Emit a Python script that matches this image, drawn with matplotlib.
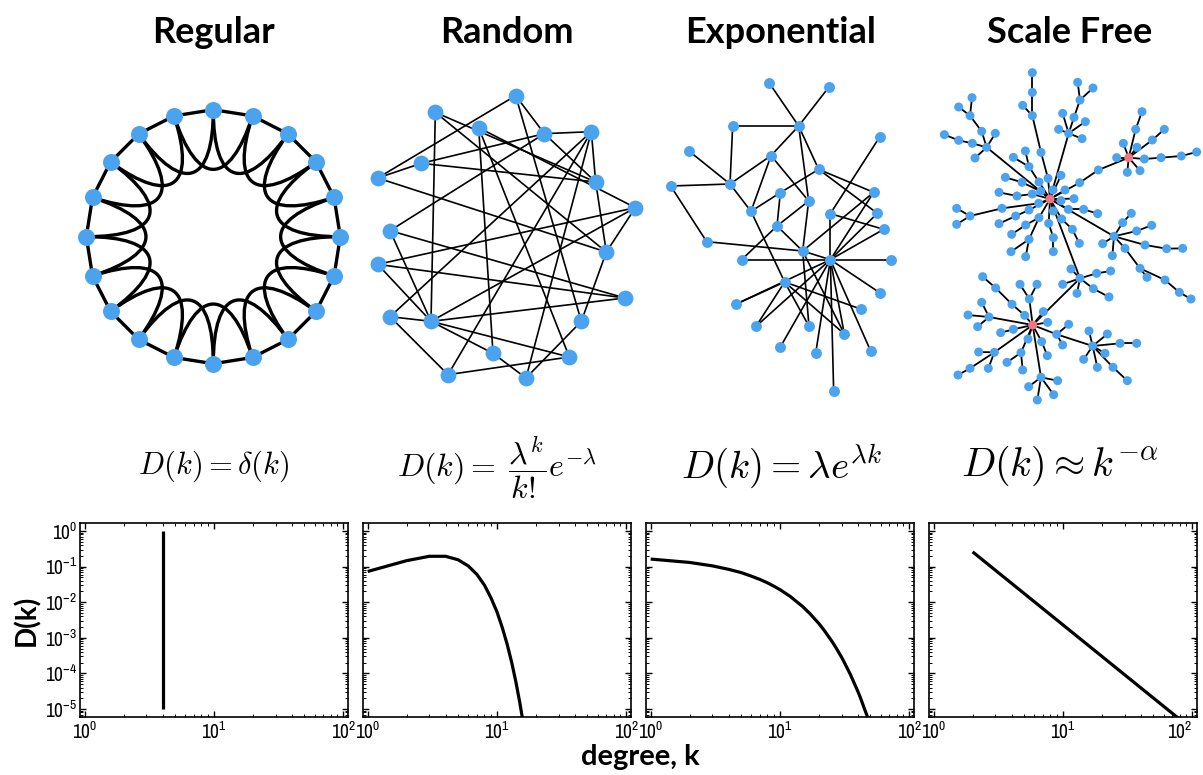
import numpy as np
import matplotlib
matplotlib.use('Agg')
import matplotlib.pyplot as plt
from matplotlib import font_manager
from matplotlib.font_manager import FontProperties
from matplotlib.collections import LineCollection
from matplotlib.path import Path
from matplotlib.patches import PathPatch

# ---------------- data ----------------
titles = ['Regular', 'Random', 'Exponential', 'Scale Free']
formulas = [r'$D(k) = \delta(k)$',
            r'$D(k) =\; \dfrac{\lambda^k}{k!}e^{-\lambda}$',
            r'$D(k) = \lambda e^{\lambda k}$',
            r'$D(k) \approx k^{-\alpha}$']

# degree distributions
reg_k = [4, 4]
reg_D = [1e-5, 1.0]
rand_k = list(range(1, 17))
rand_D = [0.073, 0.147, 0.195, 0.195, 0.156, 0.104, 0.060, 0.030, 0.013,
          0.0053, 0.0019, 6.4e-4, 2.0e-4, 5.7e-5, 1.5e-5, 3.8e-6]
exp_k = [1, 2, 3, 4, 5, 6, 7, 8, 9, 10, 12, 15, 17, 20, 22, 25, 27, 30, 32,
         35, 37, 40, 42, 45, 47, 50]
exp_D = [0.163, 0.131, 0.105, 0.084, 0.068, 0.054, 0.0435, 0.035, 0.028,
         0.0225, 0.0145, 0.0075, 0.0048, 0.0025, 0.0016, 8.3e-4, 5.35e-4,
         2.8e-4, 1.78e-4, 9.3e-5, 5.9e-5, 3.1e-5, 2.0e-5, 1.0e-5, 6.6e-6, 3.4e-6]
sf_k = [2, 10, 80]
sf_D = [0.26, 2.3e-3, 5.1e-6]

# regular ring lattice: 20 nodes, each tied to 1st and 2nd neighbours
n_regular = 20

# random graph layout (node positions as drawn) and edges
rand_pos = [(467, 47), (226, 97), (356, 143), (553, 161), (694, 155), (184, 250),
            (53, 294), (707, 306), (826, 383), (90, 452), (739, 516), (53, 553),
            (795, 654), (90, 710), (213, 724), (664, 724), (399, 820), (628, 831),
            (264, 884), (498, 894)]
rand_edges = [(0, 6), (0, 3), (0, 15), (1, 14), (1, 7), (1, 10), (2, 16), (2, 17),
              (2, 8), (3, 4), (3, 5), (3, 9), (3, 7), (4, 7), (4, 13), (4, 18),
              (4, 19), (5, 6), (5, 7), (6, 10), (7, 10), (8, 11), (8, 14), (8, 10),
              (9, 14), (9, 12), (11, 12), (11, 14), (12, 14), (10, 15), (13, 14),
              (13, 18), (14, 17), (14, 16), (16, 19), (17, 18), (19, 15)]

# exponential graph
exp_pos = [(357, 38), (536, 52), (446, 168), (248, 168), (689, 201), (118, 244),
           (363, 257), (506, 298), (62, 348), (240, 342), (391, 368), (476, 393),
           (671, 367), (303, 424), (541, 431), (682, 430), (381, 468), (701, 478),
           (170, 515), (458, 543), (541, 569), (275, 569), (723, 569), (404, 636),
           (689, 668), (257, 703), (632, 717), (318, 769), (477, 769), (583, 792),
           (391, 831), (497, 850), (662, 843), (551, 964)]
exp_edges = [(0, 2), (1, 2), (2, 3), (2, 6), (2, 7), (2, 11), (3, 9), (5, 9), (8, 9),
             (6, 9), (9, 13), (6, 13), (6, 11), (8, 18), (18, 19), (13, 10), (10, 7),
             (10, 16), (16, 11), (21, 16), (16, 19), (11, 19), (13, 23), (7, 12),
             (7, 15), (4, 14), (14, 20), (14, 17), (12, 19), (12, 20), (15, 20),
             (17, 20), (22, 20), (21, 20), (19, 20), (20, 24), (20, 25), (20, 27),
             (20, 30), (20, 31), (20, 29), (20, 32), (20, 33), (19, 28), (19, 29),
             (23, 25), (23, 27), (23, 28), (23, 26), (23, 29)]

# scale free graph: a tree, given by node positions and parent of each node
sf_pos = [
    (360, 417), (354, 355), (333, 277), (307, 167), (307, 97), (307, 38), (278, 136),
    (393, 346), (369, 390), (405, 390), (432, 416), (393, 422), (370, 453),
    (327, 366), (297, 320), (286, 273), (250, 292),
    (332, 394), (276, 367), (226, 352),
    (307, 402), (261, 408), (207, 397),
    (326, 430), (216, 445), (120, 468), (80, 445), (80, 493),
    (297, 450), (257, 468), (207, 491),
    (327, 473), (287, 495), (245, 523), (297, 538), (243, 575), (287, 590),
    (356, 490), (370, 533), (370, 575),
    (395, 477), (427, 508), (448, 550),
    (415, 448), (461, 448), (503, 461),
    (170, 262), (155, 214), (196, 220), (135, 294), (127, 250), (120, 167),
    (86, 141), (126, 113), (86, 241), (43, 224),
    (416, 220), (398, 160), (386, 208), (432, 172), (466, 185), (456, 236),
    (450, 120), (443, 67), (489, 84),
    (449, 368), (505, 330), (596, 293), (560, 293), (580, 250), (617, 208),
    (636, 155), (621, 262), (667, 240), (703, 208), (643, 297), (693, 293),
    (754, 288), (800, 276), (592, 337), (630, 332),
    (552, 529), (578, 488), (604, 460), (620, 513), (665, 496), (518, 551),
    (547, 587), (645, 555), (710, 566), (758, 565), (585, 565), (630, 625),
    (651, 652), (705, 660), (748, 697), (783, 717),
    (450, 655), (423, 627), (500, 640), (542, 633), (398, 673), (490, 686),
    (537, 711), (441, 700),
    (308, 795), (284, 766), (246, 733), (197, 684), (158, 650), (298, 717),
    (270, 673), (321, 673), (340, 755), (353, 787),
    (177, 771), (155, 727), (114, 765), (143, 800), (250, 808), (212, 818),
    (294, 837), (335, 845), (352, 887),
    (193, 877), (146, 876), (175, 925), (120, 925), (84, 945), (273, 878),
    (231, 907), (278, 930),
    (333, 952), (296, 980), (322, 1020), (371, 1004), (383, 962),
    (380, 823), (416, 793), (398, 855), (488, 858), (477, 813), (532, 822),
    (570, 850), (620, 850), (525, 880), (461, 898), (502, 922), (549, 922),
    (592, 962),
]
sf_parent = [
    -1, 0, 1, 2, 3, 4, 3,
    0, 0, 0, 0, 0, 0,
    0, 13, 14, 14,
    0, 17, 18,
    0, 20, 21,
    0, 23, 24, 25, 25,
    0, 28, 29,
    0, 31, 32, 31, 34, 34,
    0, 37, 38,
    0, 40, 41,
    0, 43, 44,
    0, 46, 46, 46, 46, 47, 51, 51, 50, 54,
    0, 56, 56, 56, 56, 56, 59, 62, 62,
    0, 65, 66, 67, 67, 67, 70, 67, 67, 73, 67, 75, 76, 77, 67, 67,
    0, 81, 82, 81, 84, 81, 81, 81, 88, 89, 81, 91, 92, 92, 94, 95,
    0, 97, 97, 99, 97, 97, 102, 97,
    97, 105, 106, 107, 108, 105, 110, 110, 105, 105,
    105, 115, 115, 115, 105, 119, 105, 105, 122,
    105, 124, 124, 124, 127, 105, 129, 129,
    105, 132, 132, 132, 132,
    105, 137, 137, 137, 140, 140, 140, 143, 140, 140, 140, 140, 148,
]
sf_hubs = [0, 67, 105]

# ---------------- style ----------------
W, H = 1203, 775
blue = '#4BA3F0'
red = '#F27483'
head_font = ['Lato', 'DejaVu Sans']

# a narrow face for the tick labels if one is around
narrow = None
for f in font_manager.fontManager.ttflist:
    if f.style != 'normal' or f.weight not in (400, 'normal', 'regular'):
        continue
    if 'Narrow' in f.name:
        narrow, tick_size = f.fname, 14
        break
    if f.stretch in ('condensed', 'semi-condensed') or 'Condensed' in f.name:
        narrow, tick_size = f.fname, 11.5
if narrow:
    tick_fp = FontProperties(fname=narrow, size=tick_size)
else:
    tick_fp = FontProperties(family='DejaVu Sans', size=10.5)

fig = plt.figure(figsize=(W / 100, H / 100), dpi=100)

# one overlay axes in pixel units for the network drawings
net = fig.add_axes([0, 0, 1, 1])
net.set_xlim(0, W)
net.set_ylim(H, 0)
net.axis('off')


def to_px(pos, x0, y0, s=3.0):
    p = np.array(pos, dtype=float)
    return np.column_stack([x0 + p[:, 0] / s, y0 + p[:, 1] / s])


def draw_graph(xy, edges, size, lw, colors=blue):
    segs = [[xy[i], xy[j]] for i, j in edges]
    net.add_collection(LineCollection(segs, colors='black', linewidths=lw, zorder=2))
    net.scatter(xy[:, 0], xy[:, 1], s=size, c=colors, linewidths=0, zorder=3)


# regular ring
cx, cy, R = 213.3, 236.7, 127.0
ang = np.deg2rad(90 + 360.0 / n_regular * np.arange(n_regular))
reg_xy = np.column_stack([cx + R * np.cos(ang), cy - R * np.sin(ang)])
ring = [(i, (i + 1) % n_regular) for i in range(n_regular)]
center = np.array([cx, cy])
for i in range(n_regular):
    p0 = reg_xy[i]
    p3 = reg_xy[(i + 2) % n_regular]
    c1 = center + (p0 - center) * 0.41
    c2 = center + (p3 - center) * 0.41
    path = Path([p0, c1, c2, p3], [Path.MOVETO, Path.CURVE4, Path.CURVE4, Path.CURVE4])
    net.add_patch(PathPatch(path, fill=False, lw=2.4, ec='black', zorder=2))
draw_graph(reg_xy, ring, 150, 2.4)

# random
draw_graph(to_px(rand_pos, 360, 80), rand_edges, 130, 1.2)

# exponential
draw_graph(to_px(exp_pos, 650, 70), exp_edges, 62, 1.2)

# scale free
sf_xy = to_px(sf_pos, 930, 60)
sf_edges = [(i, p) for i, p in enumerate(sf_parent) if p >= 0]
sf_col = [red if i in sf_hubs else blue for i in range(len(sf_pos))]
draw_graph(sf_xy, sf_edges, 42, 1.3, sf_col)

# titles and formulas
title_x = [213, 507, 781, 1070]
form_x = [214, 497, 782, 1060]
form_y = [466, 468, 466, 466]
form_size = [22, 23, 28, 29]
for t, tx, f, fx, fy, fs in zip(titles, title_x, formulas, form_x, form_y, form_size):
    fig.text(tx / W, 1 - 43 / H, t, ha='center', va='baseline',
             fontsize=26, fontweight='bold', family=head_font)
    fig.text(fx / W, 1 - fy / H, f, ha='center', va='center',
             fontsize=fs, math_fontfamily='cm')

# ---------------- degree distribution panels ----------------
lefts = [80, 363, 646, 929]
pw, top, bot = 268, 523, 717
curves = [(reg_k, reg_D), (rand_k, rand_D), (exp_k, exp_D), (sf_k, sf_D)]
for n, (left, (kk, dd)) in enumerate(zip(lefts, curves)):
    ax = fig.add_axes([left / W, 1 - bot / H, pw / W, (bot - top) / H])
    ax.plot(kk, dd, color='black', lw=2.3, solid_capstyle='butt')
    ax.set_xscale('log')
    ax.set_yscale('log')
    ax.set_xlim(0.92, 108.6)
    ax.set_ylim(5.96e-6, 1.68)
    ax.set_xticks([1, 10, 100])
    ax.set_yticks([1e-5, 1e-4, 1e-3, 1e-2, 1e-1, 1])
    ax.yaxis.set_minor_locator(matplotlib.ticker.LogLocator(subs=np.arange(2, 10), numticks=20))
    ax.xaxis.set_minor_locator(matplotlib.ticker.LogLocator(subs=np.arange(2, 10), numticks=20))
    ax.tick_params(which='both', direction='in', top=True, right=True)
    ax.tick_params(which='major', length=4, width=1, pad=3)
    ax.tick_params(which='minor', length=2, width=0.7)
    ax.tick_params(axis='y', pad=2)
    ax.tick_params(labelleft=(n == 0))
    for sp in ax.spines.values():
        sp.set_linewidth(1.2)
    for lab in ax.get_xticklabels() + ax.get_yticklabels():
        lab.set_fontproperties(tick_fp)
    if n == 3:
        ax.get_xticklabels()[-1].set_horizontalalignment('right')

fig.text(27 / W, 1 - 620 / H, 'D(k)', rotation=90, ha='center', va='center',
         fontsize=20, fontweight='bold', family=head_font)
fig.text(640 / W, 1 - 757 / H, 'degree, k', ha='center', va='center',
         fontsize=21, fontweight='bold', family=head_font)

fig.savefig('out.png', dpi=100)
